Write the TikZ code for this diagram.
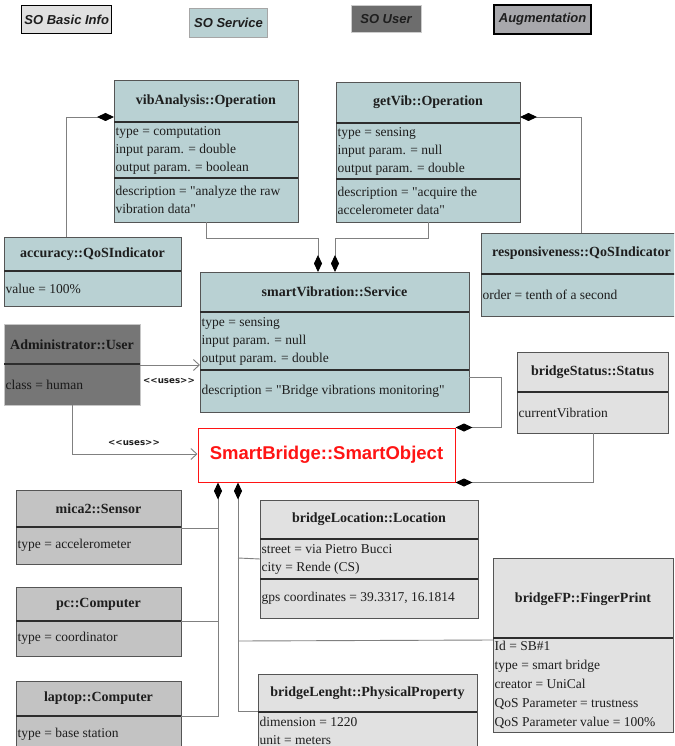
\documentclass[tikz,border=0pt]{standalone}
\usepackage{fontspec}
\setmainfont{Liberation Serif}[Ligatures=TeXOff]
\newfontfamily\arialfont{Liberation Sans}
\newfontfamily\dejavufont{DejaVu Sans}
\usetikzlibrary{arrows.meta}

\definecolor{svcfill}{RGB}{185,209,211}
\definecolor{basicfill}{RGB}{225,225,225}
\definecolor{userfill}{RGB}{118,118,118}
\definecolor{augfill}{RGB}{195,195,195}
\definecolor{auglegend}{RGB}{168,168,172}
\definecolor{boxline}{RGB}{85,85,85}
\definecolor{sepline}{RGB}{45,45,45}
\definecolor{connline}{RGB}{128,128,128}
\definecolor{txt}{RGB}{30,30,30}
\definecolor{sored}{RGB}{255,20,20}

\tikzset{
  clsbox/.style={draw=boxline, line width=0.8pt, inner sep=0pt, outer sep=0pt},
  hdr/.style={font=\fontsize{14}{16}\selectfont\bfseries, text=txt, inner sep=0pt},
  attr/.style={font=\fontsize{13.5}{18}\selectfont, text=txt, anchor=west,
    align=left, inner xsep=1.5pt, inner ysep=0pt},
  sepl/.style={draw=sepline, line width=1.2pt},
  legend/.style={inner sep=0pt, font=\arialfont\fontsize{13}{15}\selectfont\bfseries\itshape, text=txt},
  conn/.style={draw=connline, line width=0.9pt},
  comp/.style={conn, -{Diamond[length=17pt,width=8pt,color=black,fill=black]}},
  uses/.style={conn, -{Straight Barb[length=6pt,width=11pt]}},
  useslbl/.style={font=\dejavufont\fontsize{8.7}{10}\selectfont\bfseries, text=txt, inner sep=0pt}
}

\begin{document}
\begin{tikzpicture}[x=1pt,y=-1pt]
\clip (0,0) rectangle (674,746);
\fill[white] (0,0) rectangle (674,746);

% legend
\node[legend, draw=black, line width=1.4pt, fill=basicfill, minimum width=90pt, minimum height=27.6pt] (lgbasic) at (66.7,19.5) {SO Basic Info};
\node[legend, draw=gray!70, line width=0.8pt, fill=svcfill, minimum width=78.4pt, minimum height=29pt] (lgsvc) at (228.5,22.8) {SO Service};
\node[legend, draw=gray!40, line width=0.5pt, fill=userfill!92!black, minimum width=70pt, minimum height=27pt] (lguser) at (386,19.2) {SO User};
\node[legend, draw=black, line width=1.4pt, fill=auglegend, minimum width=97pt, minimum height=29pt] (lgaug) at (542.6,19.5) {Augmentation};

% vibAnalysis::Operation
\node[clsbox, fill=svcfill, minimum width=184pt, minimum height=142pt] (vib) at (206,151) {};
\draw[sepl] (vib.west |- 0,122) -- (vib.east |- 0,122);
\draw[sepl] (vib.west |- 0,178) -- (vib.east |- 0,178);
\node[hdr] (vibh) at (206,101) {vibAnalysis::Operation};
\node[attr] (viba) at (114,150) {type = computation\\input param. = double\\output param. = boolean};
\node[attr] (vibd) at (114,200) {description = "analyze the raw\\vibration data"};

% getVib::Operation
\node[clsbox, fill=svcfill, minimum width=184pt, minimum height=140pt] (gv) at (428,152) {};
\draw[sepl] (gv.west |- 0,123) -- (gv.east |- 0,123);
\draw[sepl] (gv.west |- 0,179) -- (gv.east |- 0,179);
\node[hdr] (gvh) at (428,102.5) {getVib::Operation};
\node[attr] (gva) at (336,151) {type = sensing\\input param. = null\\output param. = double};
\node[attr] (gvd) at (336,200.5) {description = "acquire the\\accelerometer data"};

% accuracy::QoSIndicator
\node[clsbox, fill=svcfill, minimum width=177pt, minimum height=69pt] (acc) at (92.5,271.5) {};
\draw[sepl] (acc.west |- 0,271) -- (acc.east |- 0,271);
\node[hdr] (acch) at (92.5,254) {accuracy::QoSIndicator};
\node[attr] (acca) at (4,288.5) {value = 100\%};

% responsiveness::QoSIndicator
\node[clsbox, fill=svcfill, minimum width=201pt, minimum height=83pt] (resp) at (581.5,274.5) {};
\draw[sepl] (resp.west |- 0,274) -- (resp.east |- 0,274);
\node[hdr] (resph) at (581.5,253.5) {responsiveness::QoSIndicator};
\node[attr] (respa) at (481,295) {order = tenth of a second};

% smartVibration::Service
\node[clsbox, fill=svcfill, minimum width=269pt, minimum height=140pt] (sv) at (334.5,342) {};
\draw[sepl] (sv.west |- 0,312) -- (sv.east |- 0,312);
\draw[sepl] (sv.west |- 0,370) -- (sv.east |- 0,370);
\node[hdr] (svh) at (334.5,292) {smartVibration::Service};
\node[attr] (sva) at (200,341) {type = sensing\\input param. = null\\output param. = double};
\node[attr] (svd) at (200,391) {description = "Bridge vibrations monitoring"};

% Administrator::User
\node[clsbox, draw=gray!45, fill=userfill, minimum width=136pt, minimum height=81pt] (adm) at (72,364.5) {};
\draw[sepl] (adm.west |- 0,364) -- (adm.east |- 0,364);
\node[hdr, text=black!90] (admh) at (72,344.5) {Administrator::User};
\node[attr, text=black!90] (adma) at (4,384.5) {class = human};

% SmartBridge::SmartObject
\node[draw=sored, line width=1pt, fill=white, inner sep=0pt, minimum width=257pt, minimum height=54pt,
  font=\arialfont\fontsize{18.5}{20}\selectfont\bfseries, text=sored] (so) at (326.5,455) {SmartBridge::SmartObject};

% bridgeStatus::Status
\node[clsbox, fill=basicfill, minimum width=151pt, minimum height=81pt] (st) at (592.5,392.5) {};
\draw[sepl] (st.west |- 0,392) -- (st.east |- 0,392);
\node[hdr] (sth) at (592.5,372) {bridgeStatus::Status};
\node[attr] (sta) at (517,412.5) {currentVibration};

% mica2::Sensor
\node[clsbox, fill=augfill, minimum width=165pt, minimum height=74pt] (mica) at (98.5,527) {};
\draw[sepl] (mica.west |- 0,527) -- (mica.east |- 0,527);
\node[hdr] (micah) at (98.5,508.5) {mica2::Sensor};
\node[attr] (micaa) at (16,545.5) {type = accelerometer};

% pc::Computer
\node[clsbox, fill=augfill, minimum width=165pt, minimum height=69pt] (pc) at (98.5,621.5) {};
\draw[sepl] (pc.west |- 0,621) -- (pc.east |- 0,621);
\node[hdr] (pch) at (98.5,604) {pc::Computer};
\node[attr] (pca) at (16,638.5) {type = coordinator};

% laptop::Computer
\node[clsbox, fill=augfill, minimum width=165pt, minimum height=79pt] (lap) at (98.5,720.5) {};
\draw[sepl] (lap.west |- 0,716) -- (lap.east |- 0,716);
\node[hdr] (laph) at (98.5,698.5) {laptop::Computer};
\node[attr] (lapa) at (16,734) {type = base station};

% bridgeLocation::Location
\node[clsbox, fill=basicfill, minimum width=218pt, minimum height=118pt] (loc) at (369,559) {};
\draw[sepl] (loc.west |- 0,539) -- (loc.east |- 0,539);
\draw[sepl] (loc.west |- 0,579) -- (loc.east |- 0,579);
\node[hdr] (loch) at (369,519.5) {bridgeLocation::Location};
\node[attr] (loca) at (260,559) {street = via Pietro Bucci\\city = Rende (CS)};
\node[attr] (locg) at (260,598.5) {gps coordinates = 39.3317, 16.1814};

% bridgeLenght::PhysicalProperty
\node[clsbox, fill=basicfill, minimum width=219pt, minimum height=86pt] (len) at (367.5,717) {};
\draw[sepl] (len.west |- 0,712) -- (len.east |- 0,712);
\node[hdr] (lenh) at (367.5,693) {bridgeLenght::PhysicalProperty};
\node[attr] (lena) at (258,731) {dimension = 1220\\unit = meters};

% bridgeFP::FingerPrint
\node[clsbox, fill=basicfill, minimum width=180pt, minimum height=174pt] (fp) at (583,645) {};
\draw[sepl] (fp.west |- 0,638) -- (fp.east |- 0,638);
\node[hdr] (fph) at (583,599) {bridgeFP::FingerPrint};
\node[attr, font=\fontsize{13.5}{19}\selectfont] (fpa) at (493,684.5) {Id = SB\#1\\type = smart bridge\\creator = UniCal\\QoS Parameter = trustness\\QoS Parameter value = 100\%};

% composition links
\draw[comp] (acc.north -| 66,0) |- (vib.west |- 0,117);
\draw[comp] (resp.north -| 581,0) |- (gv.east |- 0,117);
\draw[comp] (vib.south) -- (206,238) -| (sv.north -| 318,0);
\draw[comp] (gv.south) -- (428,238) -| (sv.north -| 335,0);
\draw[comp] (sv.east |- 0,377) -- (501,377) |- (so.north east);
\draw[comp] (st.south -| 593,0) |- (so.south east);
\draw[conn] (mica.east |- 0,528) -- (218,528);
\draw[conn] (pc.east |- 0,621) -- (218,621);
\draw[comp] (lap.east |- 0,716) -| (so.south -| 218,0);
\draw[conn] (loc.west |- 0,559) -- (238,558);
\draw[conn] (fp.west |- 0,640) -- (238,641);
\draw[comp] (len.west |- 0,711) -| (so.south -| 238,0);

% usage links
\draw[uses] (adm.east |- 0,365) -- (sv.west |- 0,365);
\draw[uses] (adm.south) |- (so.west |- 0,454);
\node[useslbl] (u1) at (169,381) {<<uses>>};
\node[useslbl] (u2) at (134,443) {<<uses>>};
\end{tikzpicture}
\end{document}
